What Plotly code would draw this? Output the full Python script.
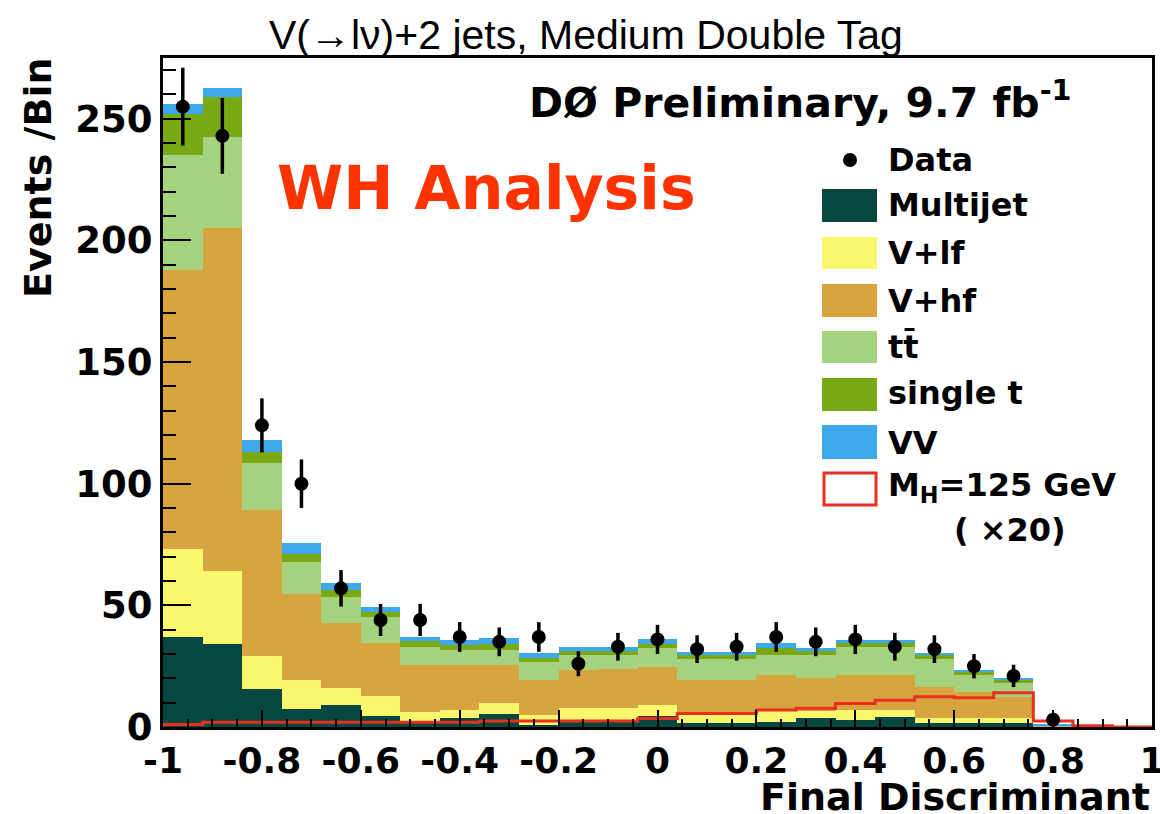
import plotly.graph_objects as go

# ---------------- data ----------------
bin_centers = [-0.96, -0.88, -0.80, -0.72, -0.64, -0.56, -0.48, -0.40, -0.32, -0.24,
               -0.16, -0.08, 0.00, 0.08, 0.16, 0.24, 0.32, 0.40, 0.48, 0.56,
               0.64, 0.72, 0.80, 0.88, 0.96]
bin_width = 0.08

multijet = [37, 34, 15.5, 7.2, 9, 4.5, 2, 3.5, 5.5, 1, 2, 2, 4.5, 1.5, 1.5, 2, 3.5, 3, 4.2, 1.5, 1.5, 1.5, 0.1, 0, 0]
v_lf     = [36, 30, 13.5, 12.1, 6.9, 8.2, 4.3, 3.5, 4.2, 3.9, 5.7, 5.7, 4.5, 4, 4, 4.5, 3, 4, 2.8, 2.1, 2.1, 2.1, 0.1, 0, 0]
v_hf     = [115, 141, 60, 35.3, 26.7, 21.9, 19.2, 18.5, 15.8, 14.4, 15.7, 16.3, 15.8, 13.8, 13.8, 15, 13.5, 14.4, 14.4, 13, 10.9, 8.9, 0.3, 0, 0]
ttbar    = [47, 37.5, 19.5, 13.1, 10.9, 10.7, 7.5, 6.1, 6, 7.5, 6.2, 5.6, 7.5, 8.5, 8.5, 8, 9.6, 11.6, 11.6, 11.3, 6.9, 5.5, 0.2, 0, 0]
single_t = [17, 16.5, 4.5, 3.6, 2.8, 2.1, 2.3, 2.1, 2.5, 1.7, 1.6, 1.6, 1.9, 1.7, 1.7, 3, 1.5, 1.5, 1.5, 1.8, 1.4, 1.5, 0.1, 0, 0]
vv       = [4, 3.5, 5, 4.2, 3.1, 2, 1.8, 2, 2.4, 1.8, 1.8, 1.8, 1.8, 1.5, 1.5, 1.9, 1.3, 1.2, 1.2, 0.8, 0.7, 0.5, 0.1, 0, 0]

signal_x20 = [1, 2, 2, 2, 2, 2, 2, 2, 2.5, 2.5, 2.5, 2.5, 3.5, 5.5, 5.5, 7, 7.7, 9.7, 11, 12.4, 12, 14.1, 2.5, 0.5, 0]

data_vals = [255, 243, 124, 100, 57, 44, 44, 37, 35, 37, 26, 33, 36, 32, 33, 37, 35, 36, 33, 32, 25, 21, 3, None, None]
data_errs = [16, 15.6, 11.1, 10, 7.5, 6.6, 6.6, 6.1, 5.9, 6.1, 5.1, 5.7, 6, 5.7, 5.7, 6.1, 5.9, 6, 5.7, 5.7, 5, 4.6, 1.7, 0, 0]

x_tick_vals = [-1, -0.8, -0.6, -0.4, -0.2, 0, 0.2, 0.4, 0.6, 0.8, 1]
x_tick_text = ["-1", "-0.8", "-0.6", "-0.4", "-0.2", "0", "0.2", "0.4", "0.6", "0.8", "1"]
y_tick_vals = [0, 50, 100, 150, 200, 250]

# ---------------- styling ----------------
C_MJ = "#06473F"
C_VLF = "#FAF76E"
C_VHF = "#D8A440"
C_TT = "#A5D27E"
C_ST = "#7AA916"
C_VV = "#3EA8EC"
C_SIG = "#E8301C"

W, H = 1160, 814
L, R, T, B = 163, 1152, 58, 727   # plot-area pixel box


def px(x):
    return (x - L) / (R - L)


def py(y):
    return (B - y) / (B - T)


BOLD = dict(family="DejaVu Sans", color="black", weight="bold")

fig = go.Figure()

stack = [
    ("Multijet", multijet, C_MJ),
    ("V+lf", v_lf, C_VLF),
    ("V+hf", v_hf, C_VHF),
    ("ttbar", ttbar, C_TT),
    ("single t", single_t, C_ST),
    ("VV", vv, C_VV),
]
for name, vals, col in stack:
    fig.add_trace(go.Bar(
        x=bin_centers, y=vals, width=bin_width, name=name,
        marker=dict(color=col, line=dict(width=0)),
        showlegend=False, hoverinfo="skip",
    ))

# signal outline as a step histogram
edges = [c - bin_width / 2 for c in bin_centers] + [bin_centers[-1] + bin_width / 2]
sig_x = [edges[0]] + edges
sig_y = [0] + signal_x20 + [signal_x20[-1]]
fig.add_trace(go.Scatter(
    x=sig_x, y=sig_y, mode="lines", line=dict(color=C_SIG, width=3, shape="hv"),
    showlegend=False, hoverinfo="skip",
))

# data points
fig.add_trace(go.Scatter(
    x=bin_centers, y=data_vals, mode="markers",
    marker=dict(color="black", size=14),
    error_y=dict(type="data", array=data_errs, color="black", thickness=3.5, width=0),
    showlegend=False,
))

fig.update_layout(
    width=W, height=H,
    margin=dict(l=L, r=W - R, t=T, b=H - B, pad=0, autoexpand=False),
    paper_bgcolor="white", plot_bgcolor="white",
    barmode="stack", bargap=0,
    xaxis=dict(
        range=[-1, 1], tickmode="array", tickvals=x_tick_vals, ticktext=x_tick_text,
        ticks="inside", ticklen=17, tickwidth=2, tickcolor="black",
        minor=dict(tickmode="linear", tick0=-1, dtick=0.05, ticks="inside",
                   ticklen=8, tickwidth=2, tickcolor="black"),
        showline=True, linecolor="black", linewidth=3, mirror=True,
        showgrid=False, zeroline=False, ticklabeloverflow="allow", automargin=False,
        tickfont=dict(size=36, **BOLD),
    ),
    yaxis=dict(
        range=[0, 275], tickmode="array", tickvals=y_tick_vals,
        ticks="inside", ticklen=28, tickwidth=2, tickcolor="black",
        minor=dict(tickmode="linear", tick0=0, dtick=10, ticks="inside",
                   ticklen=13, tickwidth=2, tickcolor="black"),
        showline=True, linecolor="black", linewidth=3, mirror=True,
        showgrid=False, zeroline=False, automargin=False,
        tickfont=dict(size=37, **BOLD),
    ),
    showlegend=False,
)

ann = []
ann.append(dict(x=px(586), y=py(35), xref="paper", yref="paper", showarrow=False,
                text="V(\u2192l\u03bd)+2 jets, Medium Double Tag",
                font=dict(family="Liberation Sans", size=41, color="black"),
                xanchor="center", yanchor="middle"))
ann.append(dict(x=px(527), y=py(100), xref="paper", yref="paper", showarrow=False,
                text="D\u00d8 Preliminary, 9.7 fb<sup>-1</sup>",
                font=dict(size=41, **BOLD), xanchor="left", yanchor="middle"))
ann.append(dict(x=px(275), y=py(188), xref="paper", yref="paper", showarrow=False,
                text="WH Analysis",
                font=dict(family="DejaVu Sans", size=60, color="#FF3300", weight="bold"),
                xanchor="left", yanchor="middle"))
ann.append(dict(x=px(38), y=py(178), xref="paper", yref="paper", showarrow=False,
                text="Events /Bin", textangle=-90,
                font=dict(size=38, **BOLD), xanchor="center", yanchor="middle"))
ann.append(dict(x=px(1152), y=py(797), xref="paper", yref="paper", showarrow=False,
                text="Final Discriminant",
                font=dict(size=38, **BOLD), xanchor="right", yanchor="middle"))

# ---------------- hand-made legend ----------------
legend_rows = [
    ("Multijet", C_MJ, 189, 222, 205),
    ("V+lf", C_VLF, 237, 269, 253),
    ("V+hf", C_VHF, 284, 317, 301),
    ("tt\u0304", C_TT, 331, 363, 347),
    ("single t", C_ST, 378, 411, 393),
    ("VV", C_VV, 425, 459, 443),
]
shapes = []
for label, col, y0, y1, yc in legend_rows:
    shapes.append(dict(type="rect", xref="paper", yref="paper",
                       x0=px(822), x1=px(877), y0=py(y1), y1=py(y0),
                       fillcolor=col, line=dict(width=0)))
    ann.append(dict(x=px(886), y=py(yc), xref="paper", yref="paper", showarrow=False,
                    text=label, font=dict(size=32, **BOLD),
                    xanchor="left", yanchor="middle"))
# signal legend box
shapes.append(dict(type="rect", xref="paper", yref="paper",
                   x0=px(824), x1=px(876), y0=py(505), y1=py(473),
                   fillcolor="white", line=dict(color=C_SIG, width=3)))
ann.append(dict(x=px(886), y=py(487), xref="paper", yref="paper", showarrow=False,
                text="M<sub>H</sub>=125 GeV", font=dict(size=32, **BOLD),
                xanchor="left", yanchor="middle"))
ann.append(dict(x=px(952), y=py(530), xref="paper", yref="paper", showarrow=False,
                text="( \u00d720)", font=dict(size=32, **BOLD),
                xanchor="left", yanchor="middle"))
# data legend dot
shapes.append(dict(type="circle", xref="paper", yref="paper",
                   x0=px(843), x1=px(857), y0=py(167), y1=py(153),
                   fillcolor="black", line=dict(width=0)))
ann.append(dict(x=px(886), y=py(160), xref="paper", yref="paper", showarrow=False,
                text="Data", font=dict(size=32, **BOLD),
                xanchor="left", yanchor="middle"))

fig.update_layout(annotations=ann, shapes=shapes)

fig.write_html("out.html")
